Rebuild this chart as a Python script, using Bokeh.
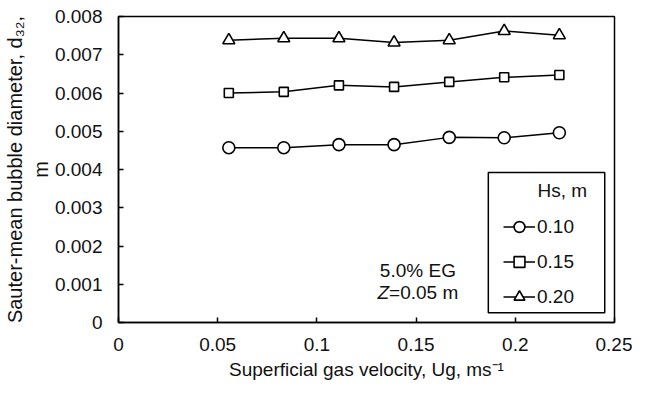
from bokeh.plotting import figure
from bokeh.models import Label, Legend, LegendItem, BoxAnnotation, FixedTicker, Range1d
from bokeh.embed import file_html
from bokeh.resources import INLINE

# ---------------- data ----------------
ug = [0.0556, 0.0833, 0.1111, 0.1389, 0.1667, 0.1944, 0.2222]
d32_hs010 = [0.00457, 0.00457, 0.00465, 0.00465, 0.00484, 0.00483, 0.00496]
d32_hs015 = [0.00600, 0.00603, 0.00620, 0.00616, 0.00629, 0.00641, 0.00647]
d32_hs020 = [0.00738, 0.00743, 0.00743, 0.00732, 0.00738, 0.00762, 0.00751]
series_labels = ["0.10", "0.15", "0.20"]
x_ticks = [0, 0.05, 0.1, 0.15, 0.2, 0.25]
x_tick_labels = ["0", "0.05", "0.1", "0.15", "0.2", "0.25"]
y_ticks = [0, 0.001, 0.002, 0.003, 0.004, 0.005, 0.006, 0.007, 0.008]
y_tick_labels = ["0", "0.001", "0.002", "0.003", "0.004", "0.005", "0.006", "0.007", "0.008"]
x_title = "Superficial gas velocity, Ug, ms\u207b\u00b9"
y_title = "Sauter-mean bubble diameter, d\u2083\u2082,\nm"
legend_title = "Hs, m"
note_line1 = "5.0% EG"
note_line2 = ("Z", "=0.05 m")   # italic part, normal part

X0, X1 = 0, 0.25
Y0, Y1 = 0, 0.008
FW, FH = 496, 306

FONT = "Liberation Sans"
TXT = "#111111"
TICK_PX = 19
TICK = f"{TICK_PX}px"

# Liberation Sans (Arial-metric) advance widths, per 1000 em
W = {' ': 278, '.': 278, '=': 584, 'Z': 611, 'm': 833}
for ch in "0123456789":
    W[ch] = 556


def tw(s, size):
    return sum(W.get(c, 556) for c in s) / 1000.0 * size


p = figure(frame_width=FW, frame_height=FH,
           x_range=Range1d(X0, X1), y_range=Range1d(Y0, Y1),
           output_backend="svg", toolbar_location=None,
           min_border_left=117, min_border_right=18,
           min_border_top=16, min_border_bottom=56,
           background_fill_color="white", border_fill_color="white")

p.xgrid.visible = False
p.ygrid.visible = False
p.outline_line_color = "black"
p.outline_line_width = 1.5
p.outline_line_alpha = 1

p.xaxis.ticker = FixedTicker(ticks=x_ticks)
p.yaxis.ticker = FixedTicker(ticks=y_ticks)
p.xaxis.major_label_overrides = {t: l for t, l in zip(x_ticks, x_tick_labels)}
p.yaxis.major_label_overrides = {t: l for t, l in zip(y_ticks, y_tick_labels)}

for ax in (p.xaxis[0], p.yaxis[0]):
    ax.axis_line_color = "black"
    ax.axis_line_width = 1.5
    ax.major_tick_line_color = "black"
    ax.major_tick_line_width = 1.5
    ax.major_tick_in = 5
    ax.major_tick_out = 0
    ax.minor_tick_in = 0
    ax.minor_tick_out = 0
    ax.major_label_text_font = FONT
    ax.major_label_text_font_size = TICK
    ax.major_label_text_color = TXT
    ax.axis_label_text_font = FONT
    ax.axis_label_text_font_style = "normal"
    ax.axis_label_text_color = TXT
p.xaxis.major_label_standoff = 15
p.yaxis.major_label_standoff = 16
p.xaxis.axis_label = x_title
p.xaxis.axis_label_text_font_size = "19px"
p.xaxis.axis_label_standoff = 5
p.yaxis.axis_label = y_title
p.yaxis.axis_label_text_font_size = "20px"
p.yaxis.axis_label_standoff = 0

markers = ["circle", "square", "triangle"]
sizes = [12, 9, 12]
renderers = []
for ys, mk, sz in zip([d32_hs010, d32_hs015, d32_hs020], markers, sizes):
    ln = p.line(ug, ys, line_color="black", line_width=1.5)
    sc = p.scatter(ug, ys, marker=mk, size=sz, fill_color="white",
                   line_color="black", line_width=1.6)
    renderers.append([ln, sc])


def dx(f):
    return X0 + f * (X1 - X0)


def dy(f):
    return Y0 + f * (Y1 - Y0)


# legend box (fractions of the frame)
box = BoxAnnotation(left=dx(0.7456), right=dx(0.9803), bottom=dy(0.032), top=dy(0.490),
                    fill_color="white", fill_alpha=1,
                    line_color="black", line_width=1.5, line_alpha=1)
p.add_layout(box)

legend = Legend(items=[LegendItem(label=lab, renderers=r) for lab, r in zip(series_labels, renderers)],
                location=(round(0.777 * FW), round(0.0385 * FH)),
                border_line_color=None, background_fill_alpha=0,
                padding=0, margin=0, spacing=8, glyph_width=32, glyph_height=27,
                label_height=27, label_standoff=2,
                label_text_font=FONT, label_text_font_size=TICK,
                label_text_color=TXT)
p.add_layout(legend)


def lab(text, fx, fy, align="left", style="normal", xoff=0.0):
    p.add_layout(Label(x=dx(fx), y=dy(fy), x_offset=xoff, text=text,
                       text_font=FONT, text_font_size=TICK, text_font_style=style,
                       text_color=TXT, text_align=align, text_baseline="middle"))


lab(legend_title, 0.9448, 0.4327, align="right")
lab(note_line1, 0.6036, 0.1699, align="center")
z_it, z_rest = note_line2
start = -tw(z_it + z_rest, TICK_PX) / 2
lab(z_it, 0.6036, 0.0994, style="italic", xoff=start)
lab(z_rest, 0.6036, 0.0994, xoff=start + tw(z_it, TICK_PX))

open("out.html", "w").write(file_html(p, INLINE))
